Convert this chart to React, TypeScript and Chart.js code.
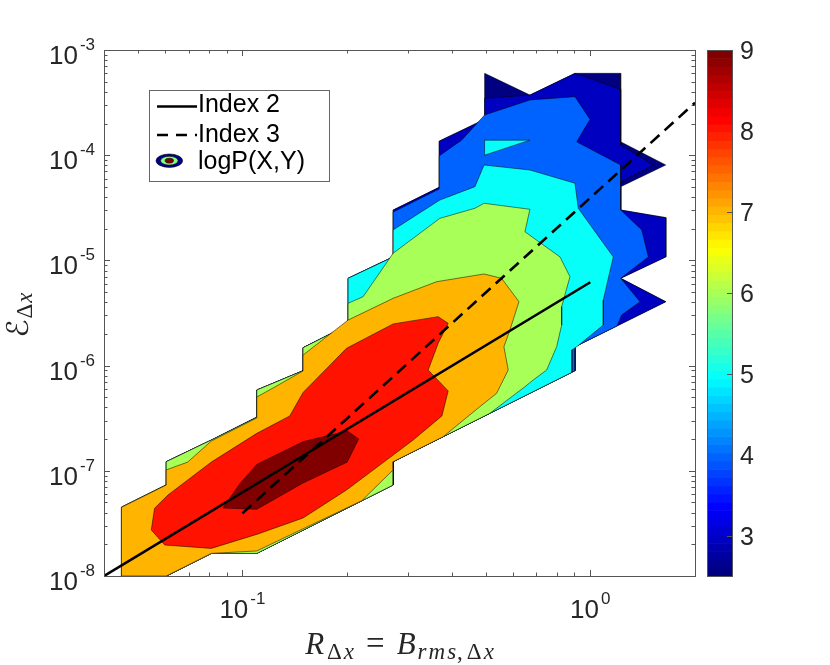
import React, { useEffect, useRef } from 'react';
import { Chart, registerables } from 'chart.js';

Chart.register(...registerables);

// ---------- axis ranges and ticks ----------
const xRange = [0.04, 2];
const yRange = [1e-8, 1e-3];
const colorRange = [2.5, 9];

const xMajorTicks = [0.1, 1];
const xMajorExponents = ['-1', '0'];
const xMinorTicks = [0.05, 0.06, 0.07, 0.08, 0.09, 0.2, 0.3, 0.4, 0.5, 0.6, 0.7, 0.8, 0.9, 2];
const yMajorTicks = [1e-8, 1e-7, 1e-6, 1e-5, 1e-4, 1e-3];
const yMajorExponents = ['-8', '-7', '-6', '-5', '-4', '-3'];
const yMinorMultipliers = [2, 3, 4, 5, 6, 7, 8, 9];
const colorbarTicks = [3, 4, 5, 6, 7, 8, 9];

// ---------- reference lines ----------
const index2Line = [[0.04, 1e-8], [1, 6.2e-6]];
const index3Line = [[0.1, 3.94e-8], [2, 3.15e-4]];

// ---------- contour regions (value >= level), [x, y] ----------
const level2p5Region = [
  [0.0449, 1e-8], [0.0449, 4.5e-8], [0.0604, 7.33e-8], [0.0604, 1.22e-7], [0.0814, 1.96e-7],
  [0.110, 3.23e-7], [0.110, 5.86e-7], [0.1494, 8.94e-7], [0.1494, 1.48e-6], [0.2013, 2.43e-6],
  [0.2013, 6.76e-6], [0.2712, 1.08e-5], [0.2712, 3.01e-5], [0.3678, 4.95e-5], [0.3678, 1.36e-4],
  [0.4968, 2.19e-4], [0.4968, 6.0e-4], [0.6708, 3.73e-4], [0.9036, 6.0e-4], [1.223, 6.0e-4],
  [1.223, 1.34e-4], [1.648, 8.07e-5], [1.223, 5.02e-5], [1.223, 3.01e-5], [1.648, 2.55e-5],
  [1.648, 1.08e-5], [1.223, 6.76e-6], [1.648, 4.05e-6], [0.9036, 1.51e-6], [0.9036, 8.94e-7],
  [0.2712, 1.22e-7], [0.2712, 7.33e-8], [0.110, 1.64e-8], [0.0814, 1.64e-8], [0.0604, 1e-8],
];
const level3Region = [
  [0.0449, 1e-8], [0.0449, 4.5e-8], [0.0604, 7.33e-8], [0.0604, 1.22e-7], [0.0814, 1.96e-7],
  [0.110, 3.23e-7], [0.110, 5.86e-7], [0.1494, 8.94e-7], [0.1494, 1.48e-6], [0.2013, 2.43e-6],
  [0.2013, 6.76e-6], [0.2712, 1.08e-5], [0.2712, 3.01e-5], [0.3678, 4.95e-5], [0.3678, 1.36e-4],
  [0.4968, 2.19e-4], [0.4968, 3.47e-4], [0.6708, 3.73e-4], [0.9036, 6.0e-4], [1.223, 4.23e-4],
  [1.223, 1.25e-4], [1.518, 8.07e-5], [1.223, 5.6e-5], [1.223, 3.01e-5], [1.648, 2.55e-5],
  [1.648, 1.08e-5], [1.223, 6.76e-6], [1.648, 4.05e-6], [0.9036, 1.51e-6], [0.9036, 8.94e-7],
  [0.2712, 1.22e-7], [0.2712, 7.33e-8], [0.110, 1.64e-8], [0.0814, 1.64e-8], [0.0604, 1e-8],
];
const level4Region = [
  [0.0449, 1e-8], [0.0449, 4.5e-8], [0.0604, 7.33e-8], [0.0604, 1.22e-7], [0.0814, 1.96e-7],
  [0.110, 3.23e-7], [0.110, 5.86e-7], [0.1494, 8.94e-7], [0.1494, 1.48e-6], [0.2013, 2.43e-6],
  [0.2013, 6.76e-6], [0.2712, 1.08e-5], [0.2712, 2.88e-5], [0.3678, 4.77e-5], [0.3678, 9.83e-5],
  [0.4266, 1.39e-4], [0.4968, 2.41e-4], [0.6708, 3.35e-4], [0.9036, 3.6e-4], [0.998, 2.19e-4],
  [0.9139, 1.34e-4], [1.223, 8.07e-5], [1.223, 3.01e-5], [1.4058, 1.95e-5], [1.4686, 1.08e-5],
  [1.223, 6.76e-6], [1.3901, 4.05e-6], [1.2312, 3.03e-6], [1.1935, 2.38e-6], [0.9036, 1.51e-6],
  [0.9036, 8.94e-7], [0.2712, 1.22e-7], [0.2712, 7.33e-8], [0.110, 1.64e-8], [0.0814, 1.64e-8],
  [0.0604, 1e-8],
];
const level5Region = [
  [0.0449, 1e-8], [0.0449, 4.5e-8], [0.0604, 7.33e-8], [0.0604, 1.22e-7], [0.0814, 1.96e-7],
  [0.110, 3.23e-7], [0.110, 5.86e-7], [0.1494, 8.94e-7], [0.1494, 1.48e-6], [0.2013, 2.43e-6],
  [0.2013, 6.76e-6], [0.2712, 1.08e-5], [0.2712, 1.95e-5], [0.3695, 3.75e-5], [0.4661, 5.02e-5],
  [0.495, 8.07e-5], [0.6706, 7.23e-5], [0.9036, 5.41e-5], [0.9236, 3.13e-5], [1.1646, 1.08e-5],
  [1.0899, 4.2e-6], [1.0899, 2.43e-6], [0.9139, 1.51e-6], [0.8857, 1.41e-6], [0.8857, 8.64e-7],
  [0.2712, 1.22e-7], [0.2712, 7.33e-8], [0.110, 1.64e-8], [0.0814, 1.64e-8], [0.0604, 1e-8],
];
const level5Island = [[0.4968, 1.39e-4], [0.6706, 1.39e-4], [0.4968, 1.0e-4]];
const level6Region = [
  [0.0449, 1e-8], [0.0449, 4.5e-8], [0.0604, 7.33e-8], [0.0604, 1.22e-7], [0.0814, 1.96e-7],
  [0.110, 3.23e-7], [0.110, 5.86e-7], [0.1494, 8.94e-7], [0.1494, 1.48e-6], [0.2013, 2.43e-6],
  [0.2013, 3.91e-6], [0.2223, 4.52e-6], [0.2712, 1.17e-5], [0.3695, 2.51e-5], [0.4661, 3.13e-5],
  [0.495, 3.49e-5], [0.6706, 3.06e-5], [0.6489, 1.87e-5], [0.8182, 1.08e-5], [0.8742, 7.0e-6],
  [0.8274, 3.63e-6], [0.8274, 2.43e-6], [0.8005, 1.51e-6], [0.7491, 9.08e-7], [0.6856, 7.3e-7],
  [0.6489, 6.3e-7], [0.5145, 3.52e-7], [0.2712, 1.22e-7], [0.2712, 7.33e-8], [0.110, 1.64e-8],
  [0.0814, 1.64e-8], [0.0604, 1e-8],
];
const level7Region = [
  [0.0449, 1e-8], [0.0449, 4.5e-8], [0.0604, 7.33e-8], [0.0604, 1.02e-7], [0.0696, 1.21e-7],
  [0.0814, 1.92e-7], [0.110, 3.18e-7], [0.110, 5.03e-7], [0.1239, 6.26e-7], [0.1494, 8.9e-7],
  [0.1494, 1.26e-6], [0.2013, 2.71e-6], [0.2712, 4.36e-6], [0.3615, 6.27e-6], [0.495, 7.43e-6],
  [0.556, 6.76e-6], [0.6236, 4.05e-6], [0.5875, 2.18e-6], [0.5646, 1.51e-6], [0.5809, 9.08e-7],
  [0.5379, 5.45e-7], [0.4816, 4.07e-7], [0.3777, 2.11e-7], [0.2712, 1.22e-7], [0.2712, 1.02e-7],
  [0.2204, 5.2e-8], [0.110, 1.73e-8], [0.0814, 1.64e-8], [0.0604, 1e-8],
];
const level8Region = [
  [0.0547, 2.74e-8], [0.0559, 4.4e-8], [0.0611, 5.89e-8], [0.0814, 1.21e-7], [0.110, 2.27e-7],
  [0.1368, 3.32e-7], [0.1494, 5.55e-7], [0.1992, 1.46e-6], [0.2712, 2.49e-6], [0.3654, 2.92e-6],
  [0.3904, 2.52e-6], [0.3654, 1.63e-6], [0.342, 9.08e-7], [0.3904, 5.74e-7], [0.3745, 3.32e-7],
  [0.3096, 1.96e-7], [0.2712, 1.41e-7], [0.1992, 6.57e-8], [0.1494, 3.56e-8], [0.1109, 2.51e-8],
  [0.0814, 1.83e-8], [0.0598, 1.97e-8],
];
const level9Region = [
  [0.0879, 4.43e-8], [0.110, 4.31e-8], [0.1494, 7.66e-8], [0.2002, 1.21e-7], [0.2158, 2.01e-7],
  [0.2002, 2.39e-7], [0.1494, 1.89e-7], [0.110, 1.15e-7], [0.0982, 7.49e-8],
];

const contourRegions = [
  { level: 2.5, points: level2p5Region },
  { level: 3, points: level3Region },
  { level: 4, points: level4Region },
  { level: 5, points: level5Region },
  { level: 5, points: level5Island },
  { level: 6, points: level6Region },
  { level: 7, points: level7Region },
  { level: 8, points: level8Region },
  { level: 9, points: level9Region },
];

const legendLabels = ['Index 2', 'Index 3', 'logP(X,Y)'];

// ---------- styling helpers ----------
const SANS = '"Liberation Sans", Arial, Helvetica, sans-serif';
const SERIF = '"Liberation Serif", "Times New Roman", serif';
const frameColor = '#555555';
const textColor = '#262626';

function jet(t: number) {
  const c = (v: number) => Math.round(255 * Math.max(0, Math.min(1, v)));
  return `rgb(${c(1.5 - Math.abs(4 * t - 3))},${c(1.5 - Math.abs(4 * t - 2))},${c(1.5 - Math.abs(4 * t - 1))})`;
}
function levelColor(v: number) {
  const i = Math.min(63, Math.floor(((v - colorRange[0]) / (colorRange[1] - colorRange[0])) * 64));
  return jet(i / 63);
}

function drawPower(ctx: CanvasRenderingContext2D, exp: string, x: number, baseY: number, align: string) {
  ctx.font = `26px ${SANS}`;
  const w10 = ctx.measureText('10').width;
  ctx.font = `17px ${SANS}`;
  const we = ctx.measureText(exp).width;
  const gap = 2;
  const total = w10 + gap + we;
  const left = align === 'right' ? x - total : x - total / 2;
  ctx.textAlign = 'left';
  ctx.textBaseline = 'alphabetic';
  ctx.font = `26px ${SANS}`;
  ctx.fillText('10', left, baseY);
  ctx.font = `17px ${SANS}`;
  ctx.fillText(exp, left + w10 + gap, baseY - 14);
}

type Piece = { t: string; f: string; dy?: number; gap?: number };
function piecesWidth(ctx: CanvasRenderingContext2D, pieces: Piece[]) {
  let w = 0;
  for (const p of pieces) {
    ctx.font = p.f;
    w += ctx.measureText(p.t).width + (p.gap || 0);
  }
  return w;
}
function drawPieces(ctx: CanvasRenderingContext2D, pieces: Piece[], x0: number, baseY: number) {
  let x = x0;
  ctx.textAlign = 'left';
  ctx.textBaseline = 'alphabetic';
  for (const p of pieces) {
    ctx.font = p.f;
    ctx.fillText(p.t, x, baseY + (p.dy || 0));
    x += ctx.measureText(p.t).width + (p.gap || 0);
  }
}

const decorPlugin = {
  id: 'matlabDecor',
  beforeDatasetsDraw(chart: any) {
    const { ctx, chartArea: a, scales } = chart;
    const xs = scales.x;
    const ys = scales.y;
    ctx.save();
    ctx.strokeStyle = frameColor;
    ctx.lineWidth = 1;
    ctx.beginPath();
    const xt = [...xMajorTicks.map((v) => [v, 6]), ...xMinorTicks.map((v) => [v, 3.5])];
    for (const [v, len] of xt) {
      const p = Math.round(xs.getPixelForValue(v)) + 0.5;
      ctx.moveTo(p, a.bottom);
      ctx.lineTo(p, a.bottom - len);
      ctx.moveTo(p, a.top);
      ctx.lineTo(p, a.top + len);
    }
    const yMinor = yMajorTicks.slice(0, -1).flatMap((d) => yMinorMultipliers.map((m) => m * d));
    const yt = [...yMajorTicks.map((v) => [v, 6]), ...yMinor.map((v) => [v, 3.5])];
    for (const [v, len] of yt) {
      const p = Math.round(ys.getPixelForValue(v)) + 0.5;
      ctx.moveTo(a.left, p);
      ctx.lineTo(a.left + len, p);
      ctx.moveTo(a.right, p);
      ctx.lineTo(a.right - len, p);
    }
    ctx.stroke();
    ctx.restore();
  },
  afterDatasetsDraw(chart: any) {
    const { ctx, chartArea: a } = chart;
    ctx.save();
    ctx.strokeStyle = frameColor;
    ctx.lineWidth = 1;
    ctx.strokeRect(a.left + 0.5, a.top + 0.5, a.right - a.left, a.bottom - a.top);
    ctx.restore();
  },
  afterDraw(chart: any) {
    const { ctx, chartArea: a, scales } = chart;
    const xs = scales.x;
    const ys = scales.y;
    const cb = scales.cb;
    ctx.save();
    ctx.fillStyle = textColor;

    // tick labels
    xMajorTicks.forEach((v, i) => drawPower(ctx, xMajorExponents[i], xs.getPixelForValue(v), a.bottom + 42, 'center'));
    yMajorTicks.forEach((v, i) => drawPower(ctx, yMajorExponents[i], a.left - 9, ys.getPixelForValue(v) + 14, 'right'));

    // x title
    const subI = `italic 23px ${SERIF}`;
    const subU = `23px ${SERIF}`;
    const xt: Piece[] = [
      { t: 'R', f: `italic 31px ${SERIF}`, gap: 3 },
      { t: 'Δ', f: subU, dy: 5, gap: 2 },
      { t: 'x', f: subI, dy: 5, gap: 12 },
      { t: '=', f: `33px ${SERIF}`, gap: 12 },
      { t: 'B', f: `italic 31px ${SERIF}`, gap: 2 },
      { t: 'r', f: subI, dy: 5, gap: 2 },
      { t: 'm', f: subI, dy: 5, gap: 2 },
      { t: 's', f: subI, dy: 5, gap: 1 },
      { t: ',', f: subU, dy: 5, gap: 4 },
      { t: 'Δ', f: subU, dy: 5, gap: 2 },
      { t: 'x', f: subI, dy: 5 },
    ];
    ctx.fillStyle = textColor;
    const xw = piecesWidth(ctx, xt);
    drawPieces(ctx, xt, (a.left + a.right) / 2 - xw / 2, a.bottom + 78);

    // y title (rotated)
    const yt: Piece[] = [
      { t: 'ℰ', f: `30px "DejaVu Serif", "DejaVu Sans", serif`, gap: 1 },
      { t: 'Δ', f: `23px ${SERIF}`, dy: 4, gap: 1 },
      { t: 'x', f: `italic 23px ${SERIF}`, dy: 4 },
    ];
    const yw = piecesWidth(ctx, yt);
    ctx.save();
    ctx.translate(28, (a.top + a.bottom) / 2 + 2);
    ctx.rotate(-Math.PI / 2);
    drawPieces(ctx, yt, -yw / 2, 0);
    ctx.restore();

    // colorbar
    const cbL = a.right + 12;
    const cbR = a.right + 37;
    const n = 64;
    for (let i = 0; i < n; i++) {
      const v0 = colorRange[0] + ((colorRange[1] - colorRange[0]) * i) / n;
      const v1 = colorRange[0] + ((colorRange[1] - colorRange[0]) * (i + 1)) / n;
      const p0 = cb.getPixelForValue(v0);
      const p1 = cb.getPixelForValue(v1);
      ctx.fillStyle = jet(i / 63);
      ctx.fillRect(cbL, p1, cbR - cbL, p0 - p1 + 0.6);
    }
    ctx.strokeStyle = frameColor;
    ctx.lineWidth = 1;
    ctx.strokeRect(cbL + 0.5, a.top + 0.5, cbR - cbL, a.bottom - a.top);
    ctx.beginPath();
    for (const v of colorbarTicks) {
      const p = Math.round(cb.getPixelForValue(v)) + 0.5;
      ctx.moveTo(cbR, p);
      ctx.lineTo(cbR - 5, p);
    }
    ctx.stroke();
    ctx.fillStyle = textColor;
    ctx.font = `25px ${SANS}`;
    ctx.textAlign = 'left';
    ctx.textBaseline = 'alphabetic';
    for (const v of colorbarTicks) {
      ctx.fillText(String(v), cbR + 8, cb.getPixelForValue(v) + 9);
    }

    // legend
    const lx = a.left + 45;
    const ly = a.top + 40;
    ctx.fillStyle = '#ffffff';
    ctx.fillRect(lx, ly, 180, 91);
    ctx.strokeStyle = '#666666';
    ctx.lineWidth = 1;
    ctx.strokeRect(lx + 0.5, ly + 0.5, 180, 91);
    ctx.strokeStyle = '#000000';
    ctx.lineWidth = 2.6;
    ctx.beginPath();
    ctx.moveTo(lx + 8, ly + 16.5);
    ctx.lineTo(lx + 48, ly + 16.5);
    ctx.stroke();
    ctx.setLineDash([11, 8]);
    ctx.beginPath();
    ctx.moveTo(lx + 8, ly + 45);
    ctx.lineTo(lx + 48, ly + 45);
    ctx.stroke();
    ctx.setLineDash([]);
    const ex = lx + 20.3;
    const ey = ly + 70.7;
    const rings = [
      [13.3, 6.7, 'rgb(0,0,140)'],
      [8.8, 4.4, 'rgb(128,255,128)'],
      [4.2, 2.4, 'rgb(128,0,0)'],
    ];
    for (const [rx, ry, c] of rings) {
      ctx.beginPath();
      ctx.ellipse(ex, ey, rx as number, ry as number, 0, 0, Math.PI * 2);
      ctx.fillStyle = c as string;
      ctx.fill();
      ctx.lineWidth = 0.6;
      ctx.strokeStyle = '#000';
      ctx.stroke();
    }
    ctx.fillStyle = '#000000';
    ctx.font = `25px ${SANS}`;
    ctx.textAlign = 'left';
    ctx.fillText(legendLabels[0], lx + 49, ly + 22);
    ctx.fillText(legendLabels[1], lx + 49, ly + 52);
    ctx.fillText(legendLabels[2], lx + 49, ly + 78.5);

    ctx.restore();
  },
};

export default function App() {
  const ref = useRef<HTMLCanvasElement>(null);
  useEffect(() => {
    const toXY = (pts: number[][]) => pts.map(([x, y]) => ({ x, y }));
    const regionSets = contourRegions.map((r, i) => ({
      label: `level ${r.level}`,
      data: toXY([...r.points, r.points[0]]),
      showLine: true,
      fill: 'shape',
      backgroundColor: levelColor(r.level),
      borderColor: 'rgba(0,0,0,0.85)',
      borderWidth: 0.6,
      pointRadius: 0,
      tension: 0,
      order: contourRegions.length - i + 1,
    }));
    const chart = new Chart(ref.current as HTMLCanvasElement, {
      type: 'scatter',
      data: {
        datasets: [
          {
            label: legendLabels[0],
            data: toXY(index2Line),
            showLine: true,
            borderColor: '#000000',
            borderWidth: 2.6,
            pointRadius: 0,
            fill: false,
            order: 0,
          },
          {
            label: legendLabels[1],
            data: toXY(index3Line),
            showLine: true,
            borderColor: '#000000',
            borderWidth: 2.6,
            borderDash: [12, 7],
            pointRadius: 0,
            fill: false,
            order: 0,
          },
          ...regionSets,
        ] as any,
      },
      options: {
        animation: false,
        responsive: false,
        events: [],
        layout: { padding: { left: 104, right: 135, top: 50, bottom: 89 } },
        plugins: { legend: { display: false }, tooltip: { enabled: false } },
        scales: {
          x: { type: 'logarithmic', min: xRange[0], max: xRange[1], display: false },
          y: { type: 'logarithmic', min: yRange[0], max: yRange[1], display: false },
          cb: { type: 'linear', axis: 'y', min: colorRange[0], max: colorRange[1], display: false },
        },
      } as any,
      plugins: [decorPlugin],
    });
    return () => chart.destroy();
  }, []);
  return (
    <div style={{ position: 'fixed', left: 0, top: 0, width: 830, height: 665, background: '#ffffff' }}>
      <canvas ref={ref} width={830} height={665} style={{ display: 'block', width: 830, height: 665 }} />
    </div>
  );
}
